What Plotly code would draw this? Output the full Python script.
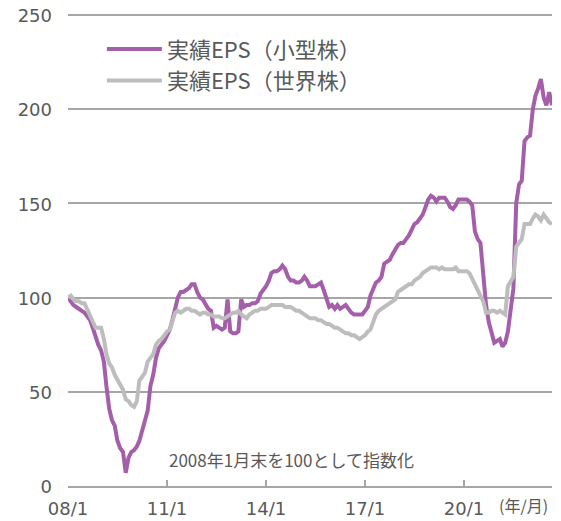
import pandas as pd
import plotly.graph_objects as go

start_month = "2008-01-01"

small_cap = [
    100, 98, 96, 95, 94, 93, 92, 90, 88, 84,
    79, 75, 72, 66, 53, 41, 35, 32, 24, 20,
    18, 7, 15, 18, 19, 21, 24, 30, 35, 40,
    53, 59, 68, 73, 75, 77, 80, 83, 88, 94,
    100, 103, 103, 104, 105, 107, 107, 103, 100, 99,
    96, 94, 93, 84, 85, 84, 83, 84, 99, 82,
    81, 81, 82, 99, 95, 96, 96, 97, 97, 98,
    102, 104, 106, 109, 113, 114, 114, 115, 117, 115,
    111, 109, 109, 108, 108, 109, 111, 109, 106, 106,
    106, 107, 108, 104, 100, 95, 96, 94, 96, 94,
    95, 96, 94, 92, 91, 91, 91, 91, 93, 95,
    101, 104, 108, 109, 111, 118, 119, 120, 123, 126,
    128, 129, 129, 131, 133, 136, 139, 140, 142, 144,
    148, 152, 154, 153, 151, 153, 153, 153, 151, 148,
    147, 149, 152, 152, 152, 152, 151, 149, 135, 131,
    129, 112, 96, 87, 81, 76, 77, 78, 74, 76,
    82, 96, 105, 150, 160, 162, 183, 185, 186, 200,
    207, 211, 216, 206, 202, 209, 202,
]

world = [
    100, 101, 99, 98, 98, 97, 97, 94, 90, 87,
    84, 84, 84, 78, 70, 65, 63, 59, 56, 54,
    51, 46, 45, 43, 42, 45, 56, 58, 60, 66,
    68, 70, 75, 77, 78, 80, 82, 83, 87, 92,
    93, 92, 93, 94, 94, 93, 93, 92, 91, 92,
    92, 91, 91, 90, 90, 90, 89, 89, 90, 91,
    92, 92, 93, 91, 90, 89, 91, 92, 93, 93,
    94, 94, 94, 95, 96, 96, 96, 96, 96, 95,
    95, 95, 94, 93, 93, 92, 91, 90, 89, 89,
    89, 88, 88, 87, 86, 86, 85, 84, 84, 83,
    82, 81, 81, 80, 80, 79, 78, 79, 80, 82,
    83, 87, 91, 93, 94, 95, 96, 97, 98, 99,
    103, 104, 105, 106, 107, 107, 109, 110, 111, 113,
    114, 115, 116, 116, 116, 115, 116, 115, 115, 115,
    115, 116, 114, 114, 114, 114, 113, 110, 107, 103,
    101, 98, 92, 92, 93, 93, 92, 93, 92, 91,
    106, 109, 111, 127, 129, 131, 139, 139, 139, 142,
    144, 143, 141, 144, 142, 140, 139,
]

series_names = ["実績EPS（小型株）", "実績EPS（世界株）"]
x_tick_dates = ["2008-01-01", "2011-01-01", "2014-01-01", "2017-01-01", "2020-01-01"]
x_tick_labels = ["08/1", "11/1", "14/1", "17/1", "20/1"]
y_ticks = [0, 50, 100, 150, 200, 250]
note_text = "2008年1月末を100として指数化"
unit_text = "(年/月)"

dates = pd.date_range(start_month, periods=len(small_cap), freq="MS")

CJK = "Noto Sans CJK JP, DejaVu Sans, sans-serif"
NUM = "DejaVu Sans"
TXT = "#595959"

fig = go.Figure()
fig.add_trace(go.Scatter(x=dates, y=small_cap, mode="lines", name=series_names[0],
                         line=dict(color="#A55EAA", width=4)))
fig.add_trace(go.Scatter(x=dates, y=world, mode="lines", name=series_names[1],
                         line=dict(color="#BDBDBD", width=4)))

fig.update_layout(
    width=561, height=521,
    margin=dict(l=68, r=9, t=13, b=35),
    plot_bgcolor="white", paper_bgcolor="white",
    showlegend=True,
    legend=dict(x=0.07, y=0.968, xanchor="left", yanchor="top",
                font=dict(family=CJK, size=22, color=TXT),
                bgcolor="rgba(0,0,0,0)", itemwidth=55, tracegroupgap=0),
    xaxis=dict(range=[dates[0], dates[-1]], tickvals=x_tick_dates, ticktext=x_tick_labels,
               showgrid=False, showline=True, linecolor="#A6A6A6", linewidth=2,
               ticks="inside", ticklen=6, tickcolor="#A6A6A6", tickwidth=1.5,
               tickfont=dict(family=NUM, size=18, color=TXT), zeroline=False,
               ticklabelstandoff=5, automargin=False),
    yaxis=dict(range=[0, 251], tickvals=y_ticks, showgrid=True, gridcolor="#A6A6A6",
               gridwidth=1.5, zeroline=False, showline=False, ticks="",
               tickfont=dict(family=NUM, size=18, color=TXT), ticklabelstandoff=15,
               ticklabelshift=1, ticklabeloverflow="allow", automargin=False),
    annotations=[
        dict(text=note_text, x=0.462, y=0.057, xref="paper", yref="paper",
             xanchor="center", yanchor="middle", showarrow=False,
             font=dict(family=CJK, size=17, color=TXT)),
        dict(text=unit_text, x=0.996, y=-0.040, xref="paper", yref="paper",
             xanchor="right", yanchor="middle", showarrow=False,
             font=dict(family=CJK, size=16, color=TXT)),
    ],
)

fig.write_html("out.html", config={"displayModeBar": False},
               post_script="document.body.style.margin='0';")
